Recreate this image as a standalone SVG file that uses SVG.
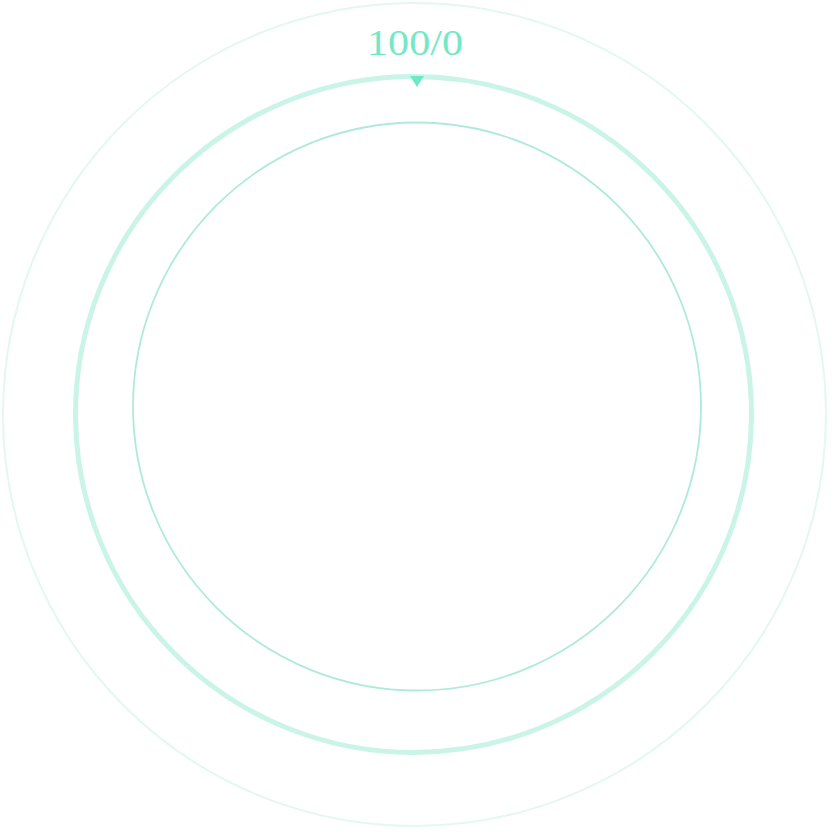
<svg xmlns="http://www.w3.org/2000/svg" width="834" height="834" viewBox="0 0 834 834">
<style>
.ring{fill:none}
.lbl{font-family:"Liberation Serif","DejaVu Serif",serif;font-size:36px;fill:#74e8c6}
</style>
<rect width="834" height="834" fill="#ffffff"/>
<g id="outer-ring"><circle class="ring" cx="414.5" cy="414.5" r="411.5" stroke="#e2f8f1" stroke-width="2"/></g>
<g id="middle-ring"><circle class="ring" cx="413.5" cy="414.5" r="338" stroke="#cbf4e8" stroke-width="5"/></g>
<g id="inner-ring"><circle class="ring" cx="417" cy="406.5" r="284" stroke="#aeeadb" stroke-width="1.8"/></g>
<g id="marker"><polygon points="410,76 424,76 417,87" fill="#70e8c6"/></g>
<g id="label"><text class="lbl" x="415" y="55" text-anchor="middle" textLength="96" lengthAdjust="spacingAndGlyphs">100/0</text></g>
<g id="connectors"></g>
</svg>
